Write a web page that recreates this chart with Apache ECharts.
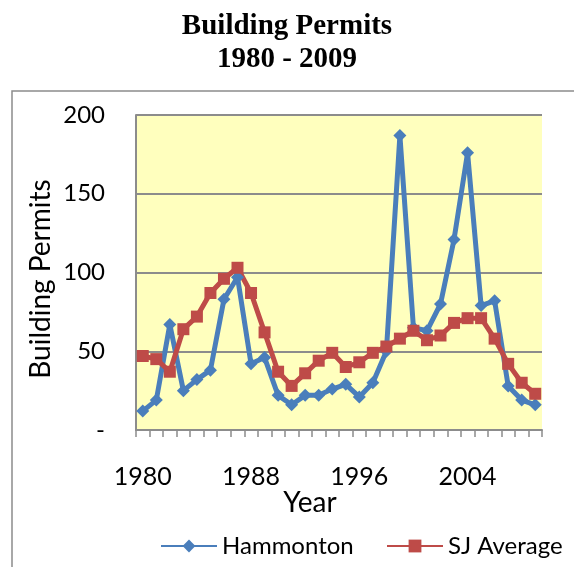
<!DOCTYPE html>
<html>
<head>
<meta charset="utf-8">
<script src="https://cdn.jsdelivr.net/npm/echarts@6/dist/echarts.min.js"></script>
<style>
html,body{margin:0;padding:0;background:#fff;}
#chart{width:574px;height:567px;}
</style>
</head>
<body>
<div id="chart"></div>
<script>
const years = [];
for (let y = 1980; y <= 2009; y++) years.push(String(y));
const hammonton = [12, 19, 67, 25, 32, 38, 83, 97, 42, 46, 22, 16, 22, 22, 26, 29, 21, 30, 50, 187, 65, 63, 80, 121, 176, 79, 82, 28, 19, 16];
const sjAverage = [47, 45, 37, 64, 72, 87, 96, 103, 87, 62, 37, 28, 36, 44, 49, 40, 43, 49, 53, 58, 63, 57, 60, 68, 71, 71, 58, 42, 30, 23];
const yTicks = [0, 50, 100, 150, 200];

const font = 'Lato';
const legendBase = {
  top: 529,
  itemWidth: 56, itemHeight: 16, itemGap: 0,
  textStyle: {fontFamily: font, fontSize: 24, color: '#000'}
};
const chart = echarts.init(document.getElementById('chart'));
chart.setOption({
  animation: false,
  backgroundColor: '#ffffff',
  title: {
    text: 'Building Permits\n1980 - 2009',
    left: 'center',
    top: 5,
    textStyle: {fontFamily: 'Liberation Serif', fontWeight: 'bold', fontSize: 29, lineHeight: 33, color: '#000'}
  },
  graphic: [
    {type: 'rect', z: -1, shape: {x: 12, y: 91, width: 620, height: 600},
     style: {fill: 'none', stroke: '#8c8c8c', lineWidth: 1.5}},
    {type: 'text', x: 310, y: 503,
     style: {text: 'Year', fontFamily: font, fontSize: 28, fill: '#000', align: 'center', verticalAlign: 'middle'}},
    {type: 'text', x: 41, y: 279, rotation: Math.PI / 2,
     style: {text: 'Building Permits', fontFamily: font, fontSize: 28, fill: '#000', align: 'center', verticalAlign: 'middle'}}
  ],
  grid: {left: 136, right: 32, top: 115, bottom: 137, backgroundColor: '#FFFFBE', show: true, borderWidth: 0},
  legend: [
    Object.assign({left: 155, data: ['Hammonton']}, legendBase),
    Object.assign({left: 381, data: ['SJ Average']}, legendBase)
  ],
  xAxis: {
    type: 'category',
    data: years,
    boundaryGap: true,
    axisLine: {lineStyle: {color: '#8c8c8c', width: 2}},
    axisTick: {show: true, interval: 0, length: 7, lineStyle: {color: '#8c8c8c', width: 1.5}},
    axisLabel: {interval: 7, margin: 34, fontFamily: font, fontSize: 25, color: '#000'},
    splitLine: {show: false}
  },
  yAxis: {
    type: 'value',
    min: 0, max: 200, interval: 50,
    axisLine: {show: true, lineStyle: {color: '#8c8c8c', width: 2}},
    axisTick: {show: false},
    axisLabel: {margin: 31, fontFamily: font, fontSize: 24, color: '#000',
      formatter: v => (yTicks.indexOf(v) >= 0 ? (v === 0 ? '-' : String(v)) : '')},
    splitLine: {show: true, lineStyle: {color: '#8c8c8c', width: 2}}
  },
  series: [
    {
      name: 'Hammonton', type: 'line', data: hammonton,
      symbol: 'diamond', symbolSize: 13, showAllSymbol: true,
      lineStyle: {color: '#4A7EBB', width: 5},
      itemStyle: {color: '#4A7EBB'}
    },
    {
      name: 'SJ Average', type: 'line', data: sjAverage,
      symbol: 'rect', symbolSize: 12, showAllSymbol: true,
      lineStyle: {color: '#BE4B48', width: 5},
      itemStyle: {color: '#BE4B48'}
    }
  ]
});
</script>
</body>
</html>
